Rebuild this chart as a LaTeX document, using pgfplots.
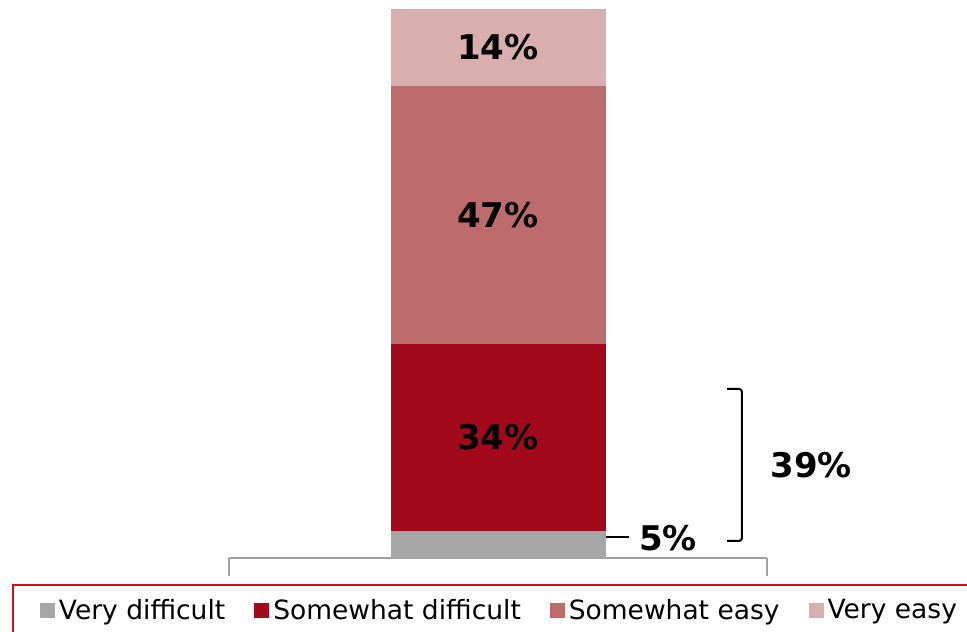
\documentclass[border=0pt]{standalone}
\usepackage{pgfplots}
\pgfplotsset{compat=1.18}
\usepackage{fontspec}
\setmainfont{DejaVu Sans}
\definecolor{cVD}{RGB}{166,166,166}
\definecolor{cSD}{RGB}{162,9,26}
\definecolor{cSE}{RGB}{189,107,107}
\definecolor{cVE}{RGB}{216,174,175}
\definecolor{legred}{RGB}{204,20,20}
\definecolor{axisgray}{RGB}{160,160,160}
\pgfplotsset{sqleg/.style={legend image code/.code={\fill[##1,draw=none] (0pt,-3.75pt) rectangle (7.5pt,3.75pt);}}}
\begin{document}
\begin{tikzpicture}
\useasboundingbox (0,0) rectangle (483.5pt,315.5pt);
\clip (0,0) rectangle (483.5pt,315.5pt);
\begin{axis}[
 at={(114.5pt,36.5pt)}, anchor=south west,
 scale only axis, width=269pt, height=274.5pt,
 xmin=0, xmax=1, ymin=0, ymax=100,
 ybar stacked, bar width=107.5pt,
 axis y line=none, axis x line*=bottom,
 xtick={0,1}, xticklabels={}, ytick=\empty,
 tick align=outside, major tick length=9pt,
 x axis line style={draw=axisgray, line width=1pt},
 every tick/.style={draw=axisgray, line width=1pt},
 clip=false,
 legend columns=-1,
 legend style={at={(-0.4034,-0.04736)}, anchor=north west, draw=legred, line width=1pt,
   font=\fontsize{13.25}{16}\selectfont, inner xsep=13.5pt, inner ysep=5pt,
   /tikz/every even column/.append style={column sep=12.5pt}},
]
\addplot[fill=cVD, draw=none, sqleg] coordinates {(0.5,5)};
\addplot[fill=cSD, draw=none, sqleg] coordinates {(0.5,34)};
\addplot[fill=cSE, draw=none, sqleg] coordinates {(0.5,47)};
\addplot[fill=cVE, draw=none, sqleg] coordinates {(0.5,14)};
\legend{Very difficult, Somewhat difficult, Somewhat easy, Very easy}
\draw[line width=1pt, rounded corners=1.5pt] (axis cs:0.9257,30.8) -- (axis cs:0.9535,30.8) -- (axis cs:0.9535,3.1) -- (axis cs:0.9257,3.1);
\draw[line width=1pt] (axis cs:0.6859,3.8) -- (axis cs:0.7435,3.8);
\end{axis}
\begin{axis}[
 at={(114.5pt,36.5pt)}, anchor=south west,
 scale only axis, width=269pt, height=274.5pt,
 xmin=0, xmax=1, ymin=0, ymax=100,
 hide axis, clip=false,
]
\addplot[only marks, mark=none, nodes near coords, point meta=explicit symbolic,
  every node near coord/.append style={anchor=center, font=\fontsize{17}{20}\bfseries\selectfont, text=black}]
  coordinates {(0.5,22)[34\%] (0.5,62.5)[47\%] (0.5,93)[14\%] (0.816,3.6)[5\%] (1.082,16.9)[39\%]};
\end{axis}
\end{tikzpicture}
\end{document}
